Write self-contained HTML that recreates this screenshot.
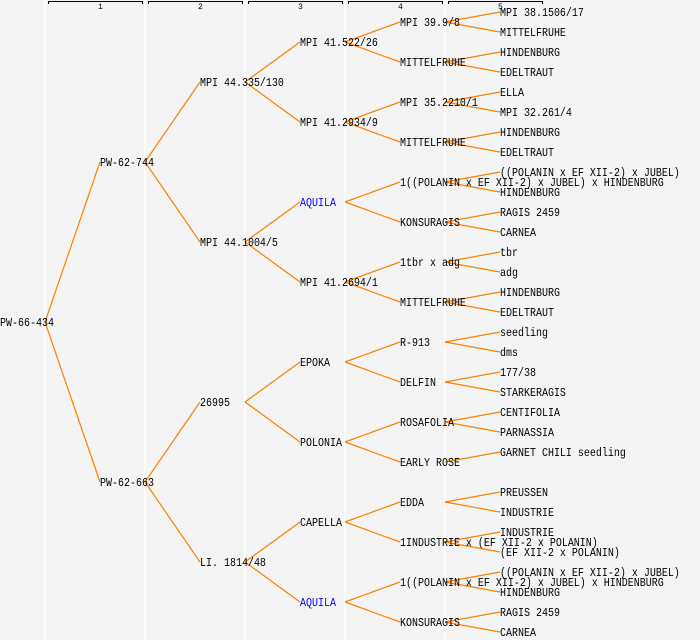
<!DOCTYPE html>
<html><head><meta charset="utf-8"><style>
html,body{margin:0;padding:0;background:#f4f4f4;}
svg{display:block;}
text{font-family:"Liberation Mono","DejaVu Sans Mono",monospace;font-size:10px;fill:#000;}
.n{font-size:8px;}
</style></head><body>
<svg id="s" width="700" height="640" xmlns="http://www.w3.org/2000/svg">
<rect width="700" height="640" fill="#f4f4f4"/>
<g stroke="#fff" stroke-width="1.5">
<line x1="45" y1="0" x2="45" y2="640"/><line x1="145" y1="0" x2="145" y2="640"/>
<line x1="245" y1="0" x2="245" y2="640"/><line x1="345" y1="0" x2="345" y2="640"/>
<line x1="445" y1="0" x2="445" y2="640"/>
</g>
<g stroke="#000" stroke-width="1" fill="none">
<path d="M48.5 4V1.5H142.5V4"/><path d="M148.5 4V1.5H242.5V4"/><path d="M248.5 4V1.5H342.5V4"/>
<path d="M348.5 4V1.5H442.5V4"/><path d="M448.5 4V1.5H542.5V4"/>
</g>
<text class="n" x="98" y="9">1</text><text class="n" x="198" y="9">2</text><text class="n" x="298" y="9">3</text>
<text class="n" x="398" y="9">4</text><text class="n" x="498" y="9">5</text>
<g id="lines" stroke="#ff8000" stroke-width="1.2"></g>
<g id="labels"></g>
</svg>
<script>
var g=[
["PW-66-434"],
["PW-62-744","PW-62-663"],
["MPI 44.335/130","MPI 44.1004/5","26995","LI. 1814/48"],
["MPI 41.522/26","MPI 41.2934/9","*AQUILA","MPI 41.2694/1","EPOKA","POLONIA","CAPELLA","*AQUILA"],
["MPI 39.9/8","MITTELFRUHE","MPI 35.2210/1","MITTELFRUHE","1((POLANIN x EF XII-2) x JUBEL) x HINDENBURG","KONSURAGIS","1tbr x adg","MITTELFRUHE","R-913","DELFIN","ROSAFOLIA","EARLY ROSE","EDDA","1INDUSTRIE x (EF XII-2 x POLANIN)","1((POLANIN x EF XII-2) x JUBEL) x HINDENBURG","KONSURAGIS"],
["MPI 38.1506/17","MITTELFRUHE","HINDENBURG","EDELTRAUT","ELLA","MPI 32.261/4","HINDENBURG","EDELTRAUT","((POLANIN x EF XII-2) x JUBEL)","HINDENBURG","RAGIS 2459","CARNEA","tbr","adg","HINDENBURG","EDELTRAUT","seedling","dms","177/38","STARKERAGIS","CENTIFOLIA","PARNASSIA","GARNET CHILI seedling","","PREUSSEN","INDUSTRIE","INDUSTRIE","(EF XII-2 x POLANIN)","((POLANIN x EF XII-2) x JUBEL)","HINDENBURG","RAGIS 2459","CARNEA"]
];
var NS="http://www.w3.org/2000/svg",L=document.getElementById("lines"),T=document.getElementById("labels");
function Y(gen,k){var s=640/Math.pow(2,gen);return 2+s/2+s*k;}
for(var gen=0;gen<6;gen++){for(var k=0;k<g[gen].length;k++){var t=g[gen][k];if(!t)continue;
var x=gen*100,y=Y(gen,k);
if(gen>0){var l=document.createElementNS(NS,"line");l.setAttribute("x1",(gen-1)*100+45);l.setAttribute("y1",Y(gen-1,k>>1));l.setAttribute("x2",x);l.setAttribute("y2",y);L.appendChild(l);}
var e=document.createElementNS(NS,"text");
e.setAttribute("transform","translate("+x+","+(y+4)+") scale(1,1.2)");
if(t[0]=="*"){t=t.slice(1);e.setAttribute("style","fill:#0000ff");}
e.textContent=t;T.appendChild(e);}}
</script>
</body></html>
